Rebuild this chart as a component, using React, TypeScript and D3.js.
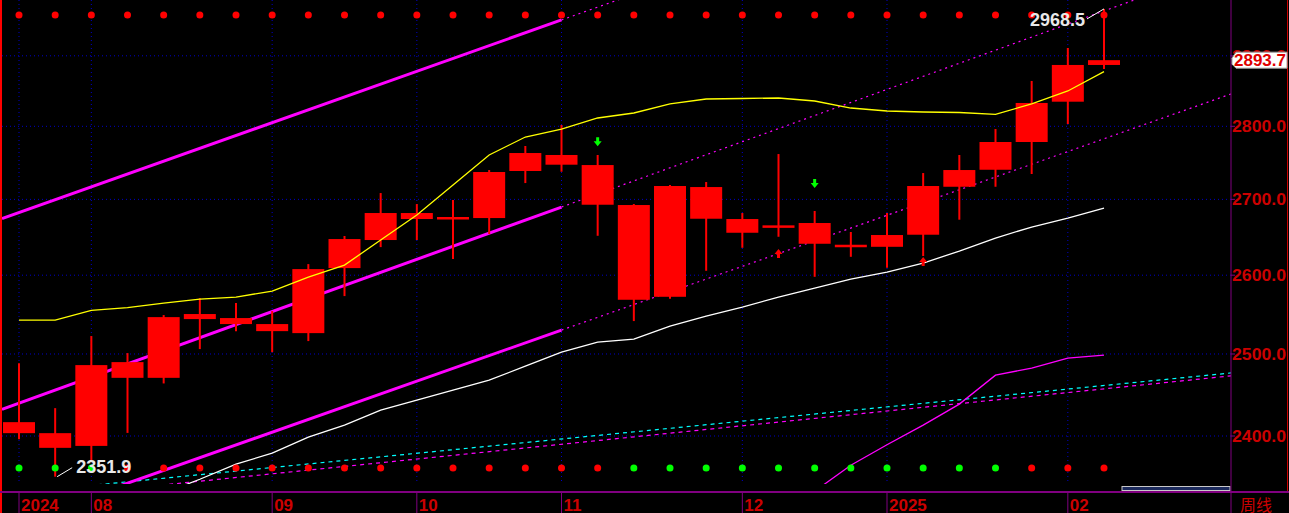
import React from 'react';
import * as d3 from 'd3';

const W = 1289;
const H = 513;

// weekly candles (index 0..30)
const opens = [2416.6, 2403.4, 2388.2, 2470.5, 2470.5, 2543.8, 2545.1, 2537.5, 2526.1, 2609.2, 2645.9, 2681.7, 2673.7, 2675.0, 2738.4, 2760.3, 2746.5, 2692.4, 2572.2, 2716.6, 2673.7, 2662.1, 2668.4, 2639.7, 2637.0, 2652.9, 2717.0, 2740.1, 2778.2, 2834.5, 2886.8];
const highs = [2488.6, 2433.5, 2522.4, 2501.1, 2548.9, 2570.5, 2564.1, 2554.0, 2614.4, 2651.2, 2708.5, 2693.7, 2699.1, 2739.7, 2772.7, 2801.8, 2760.3, 2693.7, 2719.3, 2723.4, 2681.7, 2761.6, 2684.4, 2656.5, 2681.7, 2735.6, 2760.3, 2796.2, 2863.9, 2911.3, 2968.5];
const lows = [2396.2, 2351.9, 2370.1, 2403.7, 2463.6, 2506.1, 2528.6, 2502.3, 2516.1, 2573.1, 2636.6, 2645.9, 2620.9, 2653.8, 2722.0, 2737.4, 2651.5, 2541.3, 2569.6, 2605.7, 2635.7, 2650.2, 2597.9, 2623.9, 2609.6, 2624.9, 2672.8, 2717.0, 2734.3, 2803.2, 2881.1];
const closes = [2403.4, 2385.9, 2486.2, 2489.9, 2546.3, 2550.2, 2537.5, 2528.6, 2607.9, 2647.2, 2681.7, 2673.7, 2676.4, 2737.0, 2763.0, 2747.0, 2692.8, 2568.4, 2718.0, 2674.1, 2655.5, 2665.3, 2641.0, 2636.6, 2652.5, 2718.0, 2739.7, 2778.2, 2832.7, 2886.8, 2893.7];

// moving averages
const maYellow = [2542.5, 2542.5, 2554.9, 2558.4, 2564.1, 2569.2, 2571.8, 2579.5, 2597.6, 2613.1, 2645.9, 2679.0, 2719.3, 2760.3, 2785.1, 2796.2, 2811.6, 2818.6, 2831.3, 2838.3, 2839.0, 2839.7, 2835.5, 2825.6, 2821.4, 2820.0, 2819.3, 2816.8, 2831.3, 2849.7, 2877.2];
const maWhite = [null, null, null, null, 2332.6, 2348.9, 2366.6, 2379.6, 2398.6, 2413.0, 2431.1, 2443.2, 2455.4, 2467.6, 2484.9, 2502.3, 2514.8, 2518.5, 2534.9, 2547.6, 2559.0, 2571.8, 2583.4, 2595.0, 2604.0, 2615.7, 2631.4, 2648.5, 2663.1, 2675.0, 2688.4];
const maMagenta = [null, null, null, null, null, null, null, null, null, null, null, null, null, null, null, null, null, null, null, null, null, null, 2334.9, 2365.4, 2389.6, 2413.0, 2438.4, 2473.8, 2482.5, 2494.8, 2498.6];

// trend channels: [index, value] anchors
const channelUpper = [[0, 2682.3], [15, 2952.2]];
const channelMiddle = [[0, 2439.6], [15, 2689.7]];
const channelLower = [[3, 2344.3], [15, 2529.9]];
const trendCyan = [[3, 2345.9], [30, 2461.1]];
const trendMagenta = [[5, 2346.6], [30, 2457.0]];

// signals
const bottomSignal = [1, 1, 1, 0, 0, 0, 0, 0, 0, 0, 0, 0, 0, 0, 0, 0, 0, 1, 1, 1, 1, 1, 1, 1, 1, 1, 1, 1, 0, 0, 0];
const downArrowIdx = [16, 22];
const downArrowVal = [2772.5, 2715.3];
const upArrowIdx = [21, 25];
const upArrowVal = [2634.0, 2623.5];

const priceTicks = [2400, 2500, 2600, 2700, 2800, 2900];
const monthIdx = [0, 2, 7, 11, 15, 20, 24, 29];
const monthLabels = ['2024', '08', '09', '10', '11', '12', '2025', '02'];

const AX = '#cc0000';
const FONT = '"Liberation Sans", Arial, sans-serif';

export default function App() {
  const n = closes.length;
  const x = d3.scaleLinear().domain([0, n - 1]).range([19, 1104]);
  const y = d3.scaleLog().domain([2400, 2800]).range([436, 126.3]);

  const plotL = 2, plotR = 1231, plotB = 484, axisY = 492;

  const maLine = d3.line<any>()
    .defined((d) => d != null)
    .x((_d, i) => x(i))
    .y((d) => y(d));

  const seg = (anchors: number[][], x0: number, x1: number) => {
    const ax = x(anchors[0][0]), ay = y(anchors[0][1]);
    const bx = x(anchors[1][0]), by = y(anchors[1][1]);
    const s = (by - ay) / (bx - ax);
    return { x1: x0, y1: ay + s * (x0 - ax), x2: x1, y2: ay + s * (x1 - ax) };
  };

  const hiIdx = highs.indexOf(d3.max(highs) as number);
  const loIdx = lows.indexOf(d3.min(lows) as number);
  const hiX = x(hiIdx), hiY = y(highs[hiIdx]);
  const loX = x(loIdx), loY = y(lows[loIdx]);
  const lastY = y(closes[n - 1]);

  const channels = [channelUpper, channelMiddle, channelLower];

  return (
    <svg width={W} height={H} style={{ position: 'absolute', left: 0, top: 0, background: '#000' }}>
      <defs>
        <clipPath id="plot">
          <rect x={plotL} y={0} width={plotR - plotL} height={plotB} />
        </clipPath>
      </defs>
      <rect x={0} y={0} width={W} height={H} fill="#000" />

      {/* grid */}
      {priceTicks.map((p) => (
        <line key={'h' + p} x1={plotL} x2={plotR} y1={y(p)} y2={y(p)} stroke="#0000c8" strokeDasharray="1,3" strokeWidth={1} />
      ))}
      {monthIdx.map((m) => (
        <line key={'v' + m} x1={x(m)} x2={x(m)} y1={0} y2={plotB} stroke="#0000c8" strokeDasharray="1,3" strokeWidth={1} />
      ))}

      <g clipPath="url(#plot)">
        {/* long trend dotted lines */}
        <line {...seg(trendCyan, plotL, plotR)} stroke="#00ffff" strokeWidth={1.2} strokeDasharray="4,4" />
        <line {...seg(trendMagenta, plotL, plotR)} stroke="#ff00ff" strokeWidth={1.2} strokeDasharray="4,4" />

        {/* channels */}
        {channels.map((c, i) => (
          <g key={'c' + i}>
            <line {...seg(c, plotL, x(15))} stroke="#ff00ff" strokeWidth={3} />
            <line {...seg(c, x(15), plotR)} stroke="#ff00ff" strokeWidth={1.2} strokeDasharray="2,4" />
          </g>
        ))}

        {/* moving averages */}
        <path d={maLine(maWhite as any) || ''} fill="none" stroke="#ffffff" strokeWidth={1.3} />
        <path d={maLine(maMagenta as any) || ''} fill="none" stroke="#ff00ff" strokeWidth={1.3} />

        {/* candles */}
        {closes.map((c, i) => {
          const top = y(Math.max(opens[i], c));
          const bot = y(Math.min(opens[i], c));
          const h = Math.max(bot - top, 2.5);
          return (
            <g key={'k' + i}>
              <line x1={x(i)} x2={x(i)} y1={y(highs[i])} y2={y(lows[i])} stroke="#ff0000" strokeWidth={2} />
              <rect x={x(i) - 16} y={top} width={32} height={h} fill="#ff0000" />
            </g>
          );
        })}

        <path d={maLine(maYellow as any) || ''} fill="none" stroke="#ffff00" strokeWidth={1.3} />

        {/* arrows */}
        {downArrowIdx.map((t, i) => {
          const cx = x(t), tip = y(downArrowVal[i]);
          return (
            <path key={'da' + i} d={`M${cx - 1.5},${tip - 9} h3 v4 h2.5 L${cx},${tip} L${cx - 4},${tip - 5} h2.5 Z`} fill="#00ff00" />
          );
        })}
        {upArrowIdx.map((t, i) => {
          const cx = x(t), tip = y(upArrowVal[i]);
          return (
            <path key={'ua' + i} d={`M${cx - 1.5},${tip + 9} h3 v-4 h2.5 L${cx},${tip} L${cx - 4},${tip + 5} h2.5 Z`} fill="#ff0000" />
          );
        })}

        {/* signal dots */}
        {closes.map((_c, i) => (
          <circle key={'td' + i} cx={x(i)} cy={15} r={3.5} fill="#ff0000" />
        ))}
        {bottomSignal.map((s, i) => (
          <circle key={'bd' + i} cx={x(i)} cy={468} r={3.5} fill={s ? '#00ff00' : '#ff0000'} />
        ))}

        {/* extreme labels */}
        <line x1={hiX - 17} y1={hiY + 10} x2={hiX} y2={hiY} stroke="#ffffff" strokeWidth={1} />
        <text x={hiX - 19} y={hiY + 17} fill="#e8e8e8" fontFamily={FONT} fontWeight="bold" fontSize={18} textAnchor="end">
          {d3.format('.1f')(highs[hiIdx])}
        </text>
        <line x1={loX + 2} y1={loY} x2={loX + 17} y2={loY - 9} stroke="#ffffff" strokeWidth={1} />
        <text x={loX + 21} y={loY - 4} fill="#e8e8e8" fontFamily={FONT} fontWeight="bold" fontSize={18}>
          {d3.format('.1f')(lows[loIdx])}
        </text>
      </g>

      {/* scroll bar */}
      <rect x={1122} y={486.5} width={108} height={4} fill="#1c2a5c" stroke="#c8c8c8" strokeWidth={1} />

      {/* frame */}
      <line x1={1} x2={1} y1={0} y2={H} stroke="#ff0000" strokeWidth={2} />
      <line x1={1287.5} x2={1287.5} y1={0} y2={axisY} stroke="#cc0000" strokeWidth={1} />
      <line x1={0} x2={W} y1={axisY} y2={axisY} stroke="#800080" strokeWidth={2} />
      <line x1={plotR} x2={plotR} y1={0} y2={H} stroke="#800080" strokeWidth={1} />

      {/* right axis */}
      {priceTicks.map((p) => (
        <g key={'rl' + p}>
          <line x1={plotR} x2={plotR + 4} y1={y(p)} y2={y(p)} stroke="#800080" strokeWidth={1} />
          <text x={1232} y={y(p) + 6} fill={AX} fontFamily={FONT} fontWeight="bold" fontSize={16} textLength={54} lengthAdjust="spacingAndGlyphs">
            {d3.format('.1f')(p)}
          </text>
        </g>
      ))}

      {/* last price tag */}
      <path d={`M${1232},${lastY - 2} L${1236},${lastY - 8} H${1287} V${lastY + 8} H${1236} L${1232},${lastY + 4} Z`} fill="#ffffff" stroke="#a0a0a0" strokeWidth={1} />
      <text x={1234} y={lastY + 6} fill="#e00000" fontFamily={FONT} fontWeight="bold" fontSize={17} textLength={52} lengthAdjust="spacingAndGlyphs">
        {d3.format('.1f')(closes[n - 1])}
      </text>

      {/* bottom axis */}
      {monthIdx.map((m, i) => (
        <g key={'ml' + m}>
          <line x1={x(m)} x2={x(m)} y1={axisY} y2={H} stroke="#800080" strokeWidth={1} />
          <text x={x(m) + 2} y={511} fill={AX} fontFamily={FONT} fontWeight="bold" fontSize={17}>
            {monthLabels[i]}
          </text>
        </g>
      ))}
      <line x1={1240} x2={1240} y1={axisY} y2={H} stroke="#800080" strokeWidth={0} />
      <text x={1240} y={511} fill={AX} fontFamily='"Noto Sans CJK SC", sans-serif' fontSize={16}>
        周线
      </text>
    </svg>
  );
}
